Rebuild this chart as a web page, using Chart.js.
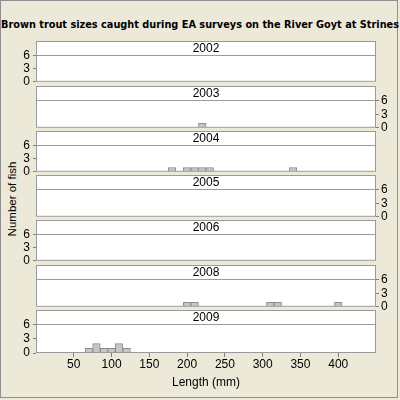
<!DOCTYPE html>
<html>
<head>
<meta charset="utf-8">
<script src="https://cdn.jsdelivr.net/npm/chart.js@4.4.1/dist/chart.umd.min.js"></script>
<style>
  body { margin: 0; background: #ECE9D8; }
  #figure {
    position: relative; width: 400px; height: 400px; overflow: hidden;
    background: #ECE9D8; font-family: "Liberation Sans", Arial, sans-serif;
  }
  #frame {
    position: absolute; left: 0; top: 0; width: 396px; height: 396px;
    border: 1px solid #8f8f8f;
  }
  #title {
    position: absolute; left: 0; top: 18px; width: 400px; line-height: 14px;
    text-align: center; white-space: nowrap; font-weight: bold;
    font-family: "DejaVu Sans", sans-serif; color: #000;
  }
  #ytitle {
    position: absolute; left: -48px; top: 192px; width: 120px; height: 14px;
    line-height: 14px; text-align: center; font-size: 11.5px; color: #000;
    transform: rotate(-90deg);
  }
  canvas { position: absolute; left: 0; }
</style>
</head>
<body>
<div id="figure">
  <div id="frame"></div>
  <div id="title">Brown trout sizes caught during EA surveys on the River Goyt at Strines</div>
  <div id="ytitle">Number of fish</div>
</div>
<script>
// Panels, one per survey year (bin centre in mm, number of fish)
const YEARS = ["2002", "2003", "2004", "2005", "2006", "2008", "2009"];
const BINS_2002 = [];
const COUNTS_2002 = [];
const BINS_2003 = [220];
const COUNTS_2003 = [1];
const BINS_2004 = [180, 200, 210, 220, 230, 340];
const COUNTS_2004 = [1, 1, 1, 1, 1, 1];
const BINS_2005 = [];
const COUNTS_2005 = [];
const BINS_2006 = [];
const COUNTS_2006 = [];
const BINS_2008 = [200, 210, 310, 320, 400];
const COUNTS_2008 = [1, 1, 1, 1, 1];
const BINS_2009 = [70, 80, 90, 100, 110, 120];
const COUNTS_2009 = [1, 2, 1, 1, 2, 1];

const BINS = [BINS_2002, BINS_2003, BINS_2004, BINS_2005, BINS_2006, BINS_2008, BINS_2009];
const COUNTS = [COUNTS_2002, COUNTS_2003, COUNTS_2004, COUNTS_2005, COUNTS_2006, COUNTS_2008, COUNTS_2009];

const X_TICKS = [50, 100, 150, 200, 250, 300, 350, 400];
const Y_TICKS = [0, 3, 6];
const X_MIN = 0, X_MAX = 450, Y_MAX = 6.2;
const BIN_WIDTH = 10;

// layout
const PLOT_LEFT = 36, PLOT_RIGHT = 376;
const STRIP_H = 14, PLOT_H = 29, X_AXIS_H = 45;
const PANEL_TOPS = [41, 86, 131, 175, 220, 265, 310];
const LINE = "#9a9a9a";
const FONT = { family: '"Liberation Sans", Arial, sans-serif', size: 12 };

// fit the title to the width of the figure
(function () {
  const t = document.getElementById("title");
  const c = document.createElement("canvas").getContext("2d");
  c.font = 'bold 12px "DejaVu Sans"';
  const w = c.measureText(t.textContent).width;
  t.style.fontSize = (12 * 398 / w).toFixed(2) + "px";
})();

// white strip with the year, and the grey frame round strip and plot
const panelFrame = {
  id: "panelFrame",
  beforeDraw(chart) {
    const { ctx, chartArea: a } = chart;
    ctx.save();
    ctx.fillStyle = "#fff";
    ctx.fillRect(a.left, a.top - STRIP_H, a.right - a.left, a.bottom - a.top + STRIP_H);
    ctx.restore();
  },
  afterDatasetsDraw(chart, args, opts) {
    const { ctx, chartArea: a } = chart;
    ctx.save();
    ctx.strokeStyle = LINE;
    ctx.lineWidth = 1;
    ctx.strokeRect(a.left + 0.5, a.top - STRIP_H + 0.5, a.right - a.left - 1, a.bottom - a.top + STRIP_H - 1);
    ctx.beginPath();
    ctx.moveTo(a.left, a.top + 0.5);
    ctx.lineTo(a.right, a.top + 0.5);
    ctx.stroke();
    ctx.fillStyle = "#000";
    ctx.font = FONT.size + "px " + FONT.family;
    ctx.textAlign = "center";
    ctx.textBaseline = "middle";
    ctx.fillText(opts.label, (a.left + a.right) / 2, a.top - STRIP_H / 2 + 0.5);
    ctx.restore();
  }
};

function makePanel(i) {
  const last = i === YEARS.length - 1;
  const axisRight = i % 2 === 1;
  const canvas = document.createElement("canvas");
  canvas.width = 400;
  canvas.height = STRIP_H + PLOT_H + (last ? X_AXIS_H : 8);
  canvas.style.top = PANEL_TOPS[i] + "px";
  document.getElementById("figure").appendChild(canvas);

  const barPx = BIN_WIDTH * (PLOT_RIGHT - PLOT_LEFT) / (X_MAX - X_MIN);

  const xScale = {
    type: "linear",
    min: X_MIN,
    max: X_MAX,
    offset: false,
    display: last,
    afterBuildTicks: (s) => { s.ticks = X_TICKS.map((v) => ({ value: v })); },
    grid: { offset: false, drawOnChartArea: false, drawTicks: true, tickLength: 4, color: "#808080" },
    border: { display: false },
    ticks: { color: "#000", font: FONT, padding: 0, maxRotation: 0, autoSkip: false },
    title: { display: true, text: "Length (mm)", color: "#000", font: FONT, padding: { top: 0, bottom: 8 } }
  };
  if (last) xScale.afterFit = (s) => { s.height = X_AXIS_H; };

  new Chart(canvas, {
    type: "bar",
    data: {
      datasets: [{
        data: BINS[i].map((b, k) => ({ x: b, y: COUNTS[i][k] })),
        backgroundColor: "#c6c6c6",
        borderColor: "#8c8c8c",
        borderWidth: 1,
        barThickness: barPx
      }]
    },
    options: {
      responsive: false,
      animation: false,
      events: [],
      layout: {
        padding: {
          top: STRIP_H,
          bottom: last ? 0 : 8,
          left: axisRight ? PLOT_LEFT : 0,
          right: axisRight ? 0 : 400 - PLOT_RIGHT
        }
      },
      plugins: {
        legend: { display: false },
        tooltip: { enabled: false },
        panelFrame: { label: YEARS[i] }
      },
      scales: {
        x: xScale,
        y: {
          min: 0,
          max: Y_MAX,
          position: axisRight ? "right" : "left",
          afterBuildTicks: (s) => { s.ticks = Y_TICKS.map((v) => ({ value: v })); },
          afterFit: (s) => { s.width = axisRight ? 400 - PLOT_RIGHT : PLOT_LEFT; },
          grid: { drawOnChartArea: false, drawTicks: true, tickLength: 3, color: "#808080" },
          border: { display: false },
          ticks: { color: "#000", font: FONT, padding: axisRight ? 2 : 3, autoSkip: false }
        }
      }
    },
    plugins: [panelFrame]
  });
}

YEARS.forEach((y, i) => makePanel(i));
</script>
</body>
</html>
